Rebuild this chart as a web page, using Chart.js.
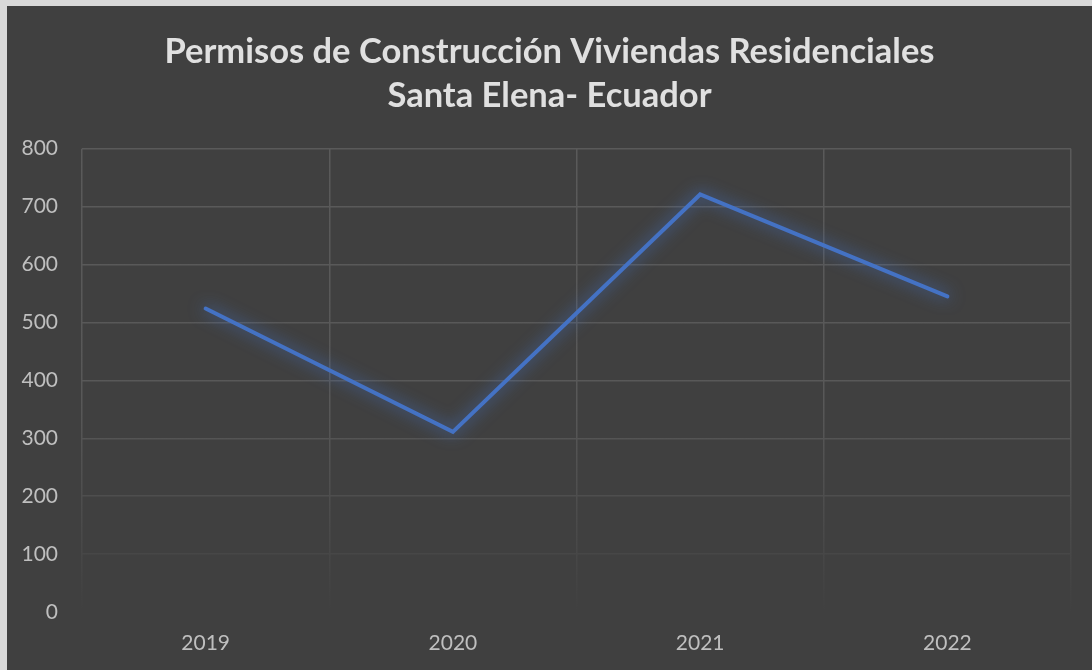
<!DOCTYPE html>
<html>
<head>
<meta charset="utf-8">
<script src="https://cdn.jsdelivr.net/npm/chart.js@4/dist/chart.umd.min.js"></script>
<style>
  html, body { margin: 0; padding: 0; background: #d9d9d9; width: 1092px; height: 670px; overflow: hidden; }
  #wrap { position: absolute; left: 7px; top: 6px; width: 1085px; height: 664px; background: #404040; }
  canvas { display: block; }
</style>
</head>
<body>
<div id="wrap"><canvas id="c" width="1085" height="664"></canvas></div>
<script>
const titleLines = ['Permisos de Construcción Viviendas Residenciales', 'Santa Elena- Ecuador'];
const categories = ['2019', '2020', '2021', '2022'];
const permisos = [524, 311, 721, 545];
const yMin = 0, yMax = 800, yStep = 100;

const glow = {
  id: 'glow',
  beforeDatasetDraw(chart) {
    const ctx = chart.ctx;
    ctx.save();
    ctx.shadowColor = 'rgba(68,114,196,1)';
    ctx.shadowBlur = 16;
  },
  afterDatasetDraw(chart) { chart.ctx.restore(); }
};

function gridColor(c) {
  const chart = c.chart;
  const a = chart.chartArea;
  if (!a) return '#595959';
  const g = chart.ctx.createLinearGradient(0, a.top, 0, a.bottom);
  g.addColorStop(0, '#5a5a5a');
  g.addColorStop(0.55, '#585858');
  g.addColorStop(0.75, '#4e4e4e');
  g.addColorStop(1, '#404040');
  return g;
}

new Chart(document.getElementById('c'), {
  type: 'line',
  data: {
    labels: categories,
    datasets: [{
      data: permisos,
      borderColor: '#4472C4',
      borderWidth: 4,
      borderCapStyle: 'round',
      borderJoinStyle: 'miter',
      pointRadius: 0,
      tension: 0,
      fill: false
    }]
  },
  plugins: [glow],
  options: {
    responsive: false,
    animation: false,
    layout: { padding: 0 },
    plugins: {
      legend: { display: false },
      tooltip: { enabled: false },
      title: {
        display: true,
        text: titleLines,
        color: '#e0e0e0',
        font: { family: 'Lato', size: 34.5, weight: 'bold', lineHeight: 1.3 },
        padding: { top: 23, bottom: 30 }
      }
    },
    scales: {
      x: {
        offset: true,
        grid: { offset: true, color: gridColor, lineWidth: 1.5, drawTicks: false },
        border: { display: false },
        ticks: { color: '#bfbfbf', font: { family: 'Lato', size: 21 }, padding: 19 },
        afterFit(s) { s.height = 58; }
      },
      y: {
        min: yMin, max: yMax,
        ticks: { stepSize: yStep, color: '#bfbfbf', font: { family: 'Lato', size: 21 }, padding: 24 },
        grid: { color: gridColor, lineWidth: 1.5, drawTicks: false },
        border: { display: false },
        afterFit(s) { s.width = 75; }
      },
      yRight: {
        position: 'right',
        display: true,
        min: yMin, max: yMax,
        grid: { display: false, drawTicks: false },
        ticks: { display: false },
        border: { display: false },
        afterFit(s) { s.width = 21; }
      }
    }
  }
});
</script>
</body>
</html>
